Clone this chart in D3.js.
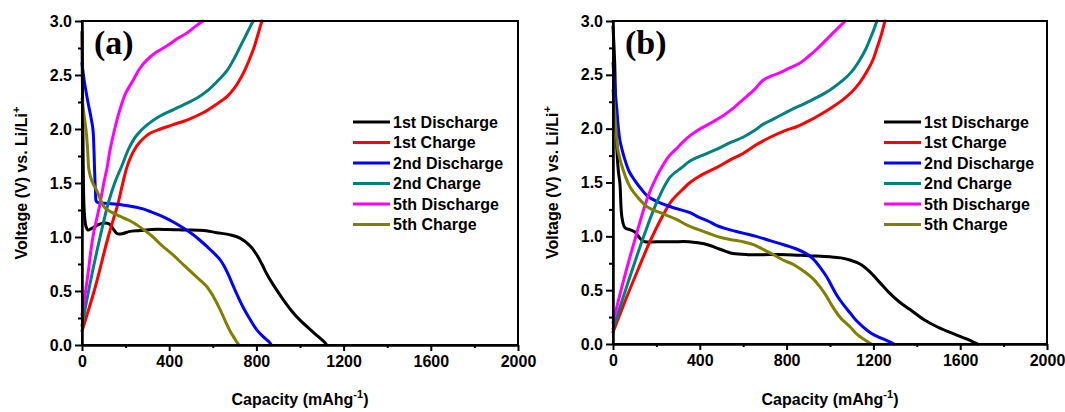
<!DOCTYPE html>
<html><head><meta charset="utf-8">
<script src="https://cdn.jsdelivr.net/npm/d3@7"></script>
<style>
html,body{margin:0;padding:0;background:#fff;}
svg text{font-weight:bold;fill:#000;}
</style></head>
<body><svg id="c" width="1065" height="412"></svg>
<script>
// ---------- data ----------
const seriesNames = ["1st Discharge","1st Charge","2nd Discharge","2nd Charge","5th Discharge","5th Charge"];
const seriesColors = ["#000000","#ff0000","#0000ff","#008080","#ff00ff","#808000"];
const xTicks = [0,400,800,1200,1600,2000];
const xMinor = [200,600,1000,1400,1800];
const yTicks = [0,0.5,1.0,1.5,2.0,2.5,3.0];
const yMinor = [0.25,0.75,1.25,1.75,2.25,2.75];
const panelLabels = ["(a)","(b)"];

// panel (a): [capacity mAh/g, voltage V]
const aDis1 = [[0,2.9],[3,2.2],[6,1.6],[10,1.25],[18,1.1],[27,1.065],[45,1.08],[70,1.11],[100,1.13],[125,1.12],[145,1.07],[162,1.03],[185,1.03],[215,1.05],[266,1.06],[320,1.07],[390,1.07],[472,1.065],[560,1.06],[618,1.04],[680,1.02],[725,0.99],[770,0.92],[800,0.84],[825,0.75],[847,0.66],[880,0.55],[923,0.42],[960,0.32],[1000,0.23],[1060,0.12],[1115,0.02],[1122,0]];
const aCha1 = [[0,0.13],[60,0.53],[120,1.0],[165,1.31],[185,1.48],[205,1.64],[228,1.76],[250,1.84],[280,1.91],[312,1.96],[360,2.0],[418,2.04],[490,2.09],[555,2.15],[610,2.22],[665,2.3],[700,2.38],[725,2.46],[750,2.56],[771,2.66],[790,2.76],[802,2.84],[815,2.93],[825,3.0]];
const aDis2 = [[0,2.61],[10,2.45],[20,2.33],[28,2.24],[40,2.12],[50,2.0],[55,1.8],[58,1.6],[62,1.42],[66,1.33],[80,1.315],[120,1.31],[210,1.29],[280,1.26],[320,1.23],[380,1.18],[427,1.13],[490,1.05],[541,0.97],[590,0.88],[633,0.79],[665,0.68],[693,0.55],[715,0.45],[739,0.35],[770,0.24],[802,0.14],[835,0.07],[862,0.02],[868,0]];
const aCha2 = [[0,0.18],[40,0.6],[83,1.0],[120,1.31],[150,1.5],[183,1.66],[215,1.82],[250,1.94],[300,2.04],[358,2.12],[420,2.18],[482,2.24],[530,2.29],[573,2.35],[620,2.44],[665,2.54],[700,2.66],[725,2.76],[755,2.88],[785,3.0]];
const aDis5 = [[0,0.28],[25,0.62],[50,1.0],[83,1.31],[100,1.5],[115,1.64],[128,1.8],[150,2.0],[174,2.18],[200,2.33],[234,2.45],[265,2.56],[298,2.64],[340,2.71],[390,2.77],[440,2.84],[482,2.89],[520,2.95],[555,3.0]];
const aCha5 = [[0,2.28],[10,2.12],[20,1.96],[26,1.8],[32,1.62],[45,1.52],[60,1.46],[72,1.41],[90,1.32],[105,1.27],[135,1.23],[165,1.2],[220,1.15],[275,1.08],[320,1.01],[367,0.92],[420,0.83],[472,0.73],[520,0.64],[573,0.54],[605,0.44],[633,0.33],[660,0.21],[679,0.13],[700,0.06],[716,0.01],[720,0]];

// panel (b)
const bDis1 = [[0,2.95],[8,2.6],[12,2.2],[16,1.95],[18,1.8],[25,1.6],[32,1.49],[41,1.18],[55,1.08],[80,1.06],[101,1.04],[125,0.98],[147,0.95],[200,0.95],[272,0.95],[350,0.95],[392,0.94],[440,0.92],[479,0.89],[520,0.86],[553,0.84],[620,0.83],[691,0.83],[800,0.83],[900,0.82],[1000,0.81],[1050,0.8],[1092,0.78],[1140,0.74],[1184,0.67],[1230,0.57],[1276,0.47],[1320,0.39],[1369,0.32],[1430,0.23],[1493,0.16],[1550,0.11],[1599,0.07],[1650,0.03],[1680,0]];
const bCha1 = [[0,0.11],[60,0.42],[115,0.69],[170,0.95],[226,1.18],[270,1.33],[318,1.43],[355,1.5],[400,1.56],[479,1.64],[540,1.71],[599,1.77],[660,1.85],[724,1.92],[790,1.98],[848,2.02],[900,2.07],[954,2.13],[1010,2.2],[1060,2.27],[1100,2.34],[1138,2.43],[1170,2.53],[1198,2.64],[1215,2.74],[1230,2.83],[1243,2.92],[1253,3.0]];
const bDis2 = [[0,2.61],[10,2.35],[18,2.17],[25,2.0],[32,1.89],[45,1.78],[55,1.71],[75,1.6],[100,1.52],[130,1.44],[161,1.37],[207,1.32],[272,1.27],[355,1.22],[392,1.18],[440,1.14],[479,1.1],[540,1.06],[599,1.03],[660,1.0],[724,0.96],[790,0.92],[848,0.88],[890,0.84],[922,0.79],[955,0.71],[986,0.62],[1010,0.53],[1032,0.45],[1060,0.37],[1092,0.29],[1120,0.22],[1152,0.16],[1190,0.1],[1230,0.06],[1265,0.03],[1295,0]];
const bCha2 = [[0,0.14],[69,0.57],[147,1.03],[207,1.34],[263,1.55],[318,1.64],[355,1.7],[420,1.76],[479,1.81],[540,1.87],[599,1.92],[650,1.98],[691,2.04],[750,2.1],[816,2.17],[880,2.23],[940,2.29],[1000,2.36],[1060,2.45],[1100,2.53],[1138,2.64],[1165,2.74],[1184,2.83],[1200,2.91],[1216,3.0]];
const bDis5 = [[0,0.2],[50,0.6],[101,0.97],[161,1.37],[200,1.55],[230,1.66],[260,1.75],[300,1.83],[340,1.91],[387,1.98],[440,2.04],[507,2.12],[560,2.2],[599,2.27],[650,2.36],[691,2.45],[730,2.49],[770,2.52],[820,2.57],[862,2.61],[900,2.67],[940,2.74],[980,2.82],[1014,2.89],[1045,2.95],[1069,3.0]];
const bCha5 = [[0,2.36],[8,2.15],[15,1.96],[23,1.8],[46,1.62],[78,1.46],[115,1.36],[161,1.27],[230,1.21],[290,1.16],[346,1.1],[410,1.05],[479,1.0],[540,0.97],[599,0.95],[650,0.92],[691,0.88],[740,0.83],[783,0.78],[830,0.74],[876,0.68],[920,0.61],[954,0.53],[985,0.44],[1014,0.34],[1050,0.24],[1092,0.16],[1125,0.09],[1152,0.05],[1175,0.02],[1190,0]];

const panelA = [aDis1,aCha1,aDis2,aCha2,aDis5,aCha5];
const panelB = [bDis1,bCha1,bDis2,bCha2,bDis5,bCha5];

// ---------- drawing ----------
const SANS = "'Liberation Sans', Arial, sans-serif";
const SERIF = "'Liberation Serif', 'Times New Roman', serif";
const svg = d3.select("#c");
const panels = [
  {data:panelA, label:panelLabels[0], x0:82, x1:518, y0:345, y1:21},
  {data:panelB, label:panelLabels[1], x0:613, x1:1047, y0:344, y1:21}
];

panels.forEach(p => {
  const x = d3.scaleLinear().domain([0,2000]).range([p.x0,p.x1]);
  const y = d3.scaleLinear().domain([0,3]).range([p.y0,p.y1]);
  const g = svg.append("g");

  // curves
  const line = d3.line().x(d=>x(d[0])).y(d=>y(d[1])).curve(d3.curveCatmullRom.alpha(0.5));
  p.data.forEach((s,i) => {
    g.append("path").attr("d", line(s)).attr("fill","none")
      .attr("stroke", seriesColors[i]).attr("stroke-width",3)
      .attr("stroke-linejoin","round").attr("stroke-linecap","round");
  });

  // frame
  g.append("rect").attr("x",p.x0).attr("y",p.y1).attr("width",p.x1-p.x0).attr("height",p.y0-p.y1)
    .attr("fill","none").attr("stroke","#000").attr("stroke-width",2);

  // x axis
  g.append("g").attr("transform",`translate(0,${p.y0})`)
    .call(d3.axisBottom(x).tickValues(xTicks).tickFormat(d3.format("d")).tickSize(6).tickSizeOuter(0).tickPadding(5));
  g.append("g").attr("transform",`translate(0,${p.y0})`)
    .call(d3.axisBottom(x).tickValues(xMinor).tickFormat("").tickSize(3).tickSizeOuter(0));
  // y axis
  g.append("g").attr("transform",`translate(${p.x0},0)`)
    .call(d3.axisLeft(y).tickValues(yTicks).tickFormat(d3.format(".1f")).tickSize(7).tickSizeOuter(0).tickPadding(3));
  g.append("g").attr("transform",`translate(${p.x0},0)`)
    .call(d3.axisLeft(y).tickValues(yMinor).tickFormat("").tickSize(4).tickSizeOuter(0));
  g.selectAll(".domain").attr("stroke","#000").attr("stroke-width",2);
  g.selectAll(".tick line").attr("stroke","#000").attr("stroke-width",2);
  g.selectAll(".tick text").style("font-size","16px").style("font-family",SANS).style("font-weight","bold");

  // x title
  const xt = g.append("text").attr("x",(p.x0+p.x1)/2).attr("y",405).attr("text-anchor","middle")
    .style("font-size","16px").style("font-family",SANS);
  xt.append("tspan").text("Capacity (mAhg");
  xt.append("tspan").text("-1").style("font-size","11px").attr("dy",-7);
  xt.append("tspan").text(")").attr("dy",7);

  // y title
  const yt = g.append("text").attr("transform",`translate(${p.x0-55},${(p.y0+p.y1)/2}) rotate(-90)`)
    .attr("text-anchor","middle").style("font-size","16px").style("font-family",SANS);
  yt.append("tspan").text("Voltage (V) vs. Li/Li");
  yt.append("tspan").text("+").style("font-size","11px").attr("dy",-7);

  // panel label
  g.append("text").attr("x",p.x0+12).attr("y",54).text(p.label)
    .style("font-family",SERIF).style("font-size","34px");

  // legend
  const lg = g.append("g").attr("transform",`translate(${p.x0+271},122)`);
  seriesNames.forEach((n,i) => {
    const r = lg.append("g").attr("transform",`translate(0,${i*20.5})`);
    r.append("line").attr("x1",0).attr("x2",37).attr("y1",0).attr("y2",0)
      .attr("stroke",seriesColors[i]).attr("stroke-width",3);
    r.append("text").attr("x",40).attr("y",5.5).style("font-size","16px").style("font-family",SANS).text(n);
  });
});
</script></body></html>
